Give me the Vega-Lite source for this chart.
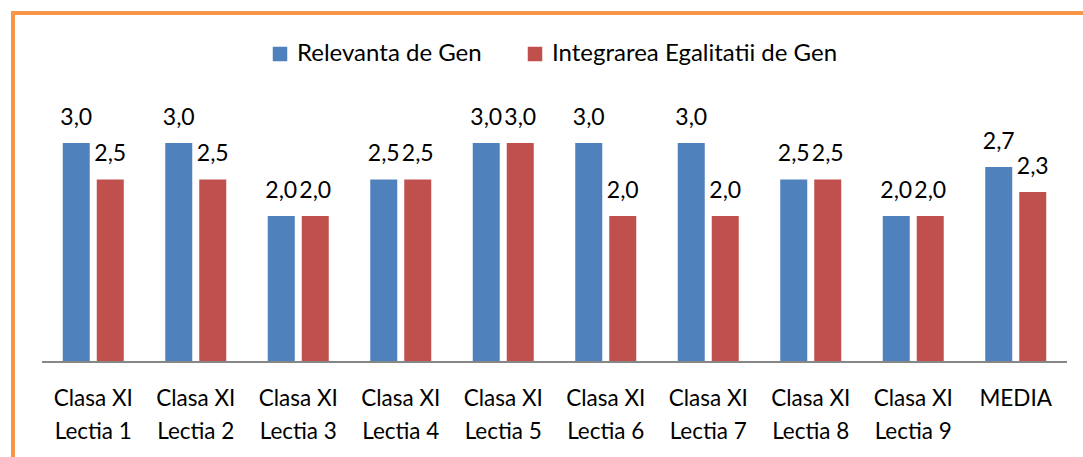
{
  "$schema": "https://vega.github.io/schema/vega-lite/v6.json",
  "width": 1083,
  "height": 450,
  "autosize": {"type": "none"},
  "padding": {"left": 13, "top": 13, "right": -13, "bottom": -6},
  "background": "white",
  "config": {
    "view": {"stroke": "#F79646", "strokeWidth": 4},
    "font": "Lato",
    "locale": {"number": {"decimal": ",", "thousands": ".", "grouping": [3], "currency": ["", " €"]}}
  },
  "data": {
    "values": [
      {"cat": "Clasa XI|Lectia 1", "series": "Relevanta de Gen", "value": 3.0},
      {"cat": "Clasa XI|Lectia 1", "series": "Integrarea Egalitatii de Gen", "value": 2.5},
      {"cat": "Clasa XI|Lectia 2", "series": "Relevanta de Gen", "value": 3.0},
      {"cat": "Clasa XI|Lectia 2", "series": "Integrarea Egalitatii de Gen", "value": 2.5},
      {"cat": "Clasa XI|Lectia 3", "series": "Relevanta de Gen", "value": 2.0},
      {"cat": "Clasa XI|Lectia 3", "series": "Integrarea Egalitatii de Gen", "value": 2.0},
      {"cat": "Clasa XI|Lectia 4", "series": "Relevanta de Gen", "value": 2.5},
      {"cat": "Clasa XI|Lectia 4", "series": "Integrarea Egalitatii de Gen", "value": 2.5},
      {"cat": "Clasa XI|Lectia 5", "series": "Relevanta de Gen", "value": 3.0},
      {"cat": "Clasa XI|Lectia 5", "series": "Integrarea Egalitatii de Gen", "value": 3.0},
      {"cat": "Clasa XI|Lectia 6", "series": "Relevanta de Gen", "value": 3.0},
      {"cat": "Clasa XI|Lectia 6", "series": "Integrarea Egalitatii de Gen", "value": 2.0},
      {"cat": "Clasa XI|Lectia 7", "series": "Relevanta de Gen", "value": 3.0},
      {"cat": "Clasa XI|Lectia 7", "series": "Integrarea Egalitatii de Gen", "value": 2.0},
      {"cat": "Clasa XI|Lectia 8", "series": "Relevanta de Gen", "value": 2.5},
      {"cat": "Clasa XI|Lectia 8", "series": "Integrarea Egalitatii de Gen", "value": 2.5},
      {"cat": "Clasa XI|Lectia 9", "series": "Relevanta de Gen", "value": 2.0},
      {"cat": "Clasa XI|Lectia 9", "series": "Integrarea Egalitatii de Gen", "value": 2.0},
      {"cat": "MEDIA", "series": "Relevanta de Gen", "value": 2.67},
      {"cat": "MEDIA", "series": "Integrarea Egalitatii de Gen", "value": 2.33}
    ]
  },
  "encoding": {
    "x": {
      "field": "cat", "type": "nominal", "sort": null,
      "scale": {"paddingInner": 0, "paddingOuter": 0.283},
      "axis": {
        "title": null, "orient": "bottom", "offset": -101,
        "domain": false, "ticks": false, "labelAngle": 0,
        "labelExpr": "split(datum.label, '|')",
        "labelFont": "Lato", "labelFontSize": 22.5, "labelColor": "#000000",
        "labelLineHeight": 33, "labelPadding": 25, "labelLimit": 300
      }
    },
    "xOffset": {
      "field": "series", "type": "nominal",
      "sort": ["Relevanta de Gen", "Integrarea Egalitatii de Gen"],
      "scale": {"paddingInner": 0.206, "paddingOuter": 0.61}
    },
    "y": {
      "field": "value", "type": "quantitative",
      "scale": {"domain": [-1.3836, 4.7808], "nice": false, "zero": false},
      "axis": null
    }
  },
  "layer": [
    {
      "mark": {"type": "bar"},
      "encoding": {
        "y2": {"datum": 0},
        "color": {
          "field": "series", "type": "nominal",
          "sort": ["Relevanta de Gen", "Integrarea Egalitatii de Gen"],
          "scale": {"domain": ["Relevanta de Gen", "Integrarea Egalitatii de Gen"], "range": ["#4F81BD", "#C0504D"]},
          "legend": {
            "title": null, "orient": "none", "direction": "horizontal",
            "legendX": 255, "legendY": 29,
            "symbolType": "square", "symbolSize": 210, "symbolStrokeWidth": 0,
            "labelFont": "Lato", "labelFontSize": 24, "labelColor": "#000000",
            "labelOffset": 5, "columnPadding": 41, "padding": 0, "labelLimit": 500
          }
        }
      }
    },
    {
      "mark": {"type": "text", "baseline": "alphabetic", "dy": -18, "fontSize": 23, "font": "Lato", "color": "#000000"},
      "encoding": {
        "text": {"field": "value", "type": "quantitative", "format": ".1f"}
      }
    },
    {
      "mark": {"type": "rule", "color": "#868686", "strokeWidth": 2},
      "encoding": {
        "x": {"datum": "Clasa XI|Lectia 1", "bandPosition": 0},
        "x2": {"datum": "MEDIA", "bandPosition": 1},
        "y": {"datum": 0},
        "xOffset": null
      }
    }
  ]
}
